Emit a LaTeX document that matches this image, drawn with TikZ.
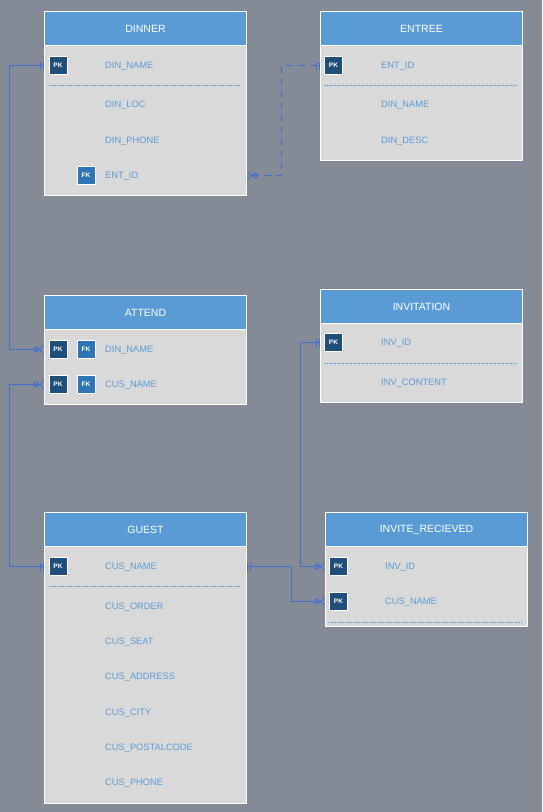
\documentclass[tikz,border=0pt]{standalone}
\usepackage{fontspec}
\setmainfont{Liberation Sans}
\usetikzlibrary{arrows.meta,positioning}
\definecolor{bgcol}{HTML}{858B96}
\definecolor{hdblue}{HTML}{5B9BD5}
\definecolor{bodygray}{HTML}{D9D9D9}
\definecolor{pkblue}{HTML}{1F4E79}
\definecolor{fkblue}{HTML}{2E75B6}
\definecolor{fldblue}{HTML}{5B9BD5}
\definecolor{relblue}{HTML}{3F6FD0}
\tikzset{
  zmany/.tip = {Circle[open,length=5.5pt,width=5.5pt,line width=1pt] Straight Barb[reversed,length=4pt,width=8pt,line width=1pt]},
  onlyone/.tip = {Bar[width=8pt,sep=2pt,line width=1.1pt] Bar[width=8pt,line width=1.1pt]},
}
\begin{document}
\begin{tikzpicture}[x=1pt,y=-1pt,
    tbl/.style={draw=white, line width=1pt, fill=bodygray, anchor=north west,
      inner sep=0pt, minimum width=202pt},
    hd/.style={tbl, fill=hdblue, minimum height=34pt, text=white,
      font=\fontsize{10.5}{12}\selectfont},
    fld/.style={anchor=west, inner sep=0pt, yshift=-1pt, text=fldblue, font=\fontsize{9.3}{11}\selectfont},
    key/.style={draw=white, line width=0.8pt, minimum size=18pt, inner sep=0pt,
      text=white, font=\fontsize{6.5}{7}\selectfont\bfseries},
    pk/.style={key, fill=pkblue},
    fk/.style={key, fill=fkblue},
    sepline/.style={fldblue, dash pattern=on 0.8pt off 0.8pt, line width=0.6pt,
      transform canvas={yshift=-0.5pt}},
    rel/.style={relblue, line width=1pt, transform canvas={yshift=-0.5pt}}]
  \fill[bgcol] (0,0) rectangle (542,812);
  \useasboundingbox (0,0) rectangle (542,812);

  % DINNER
  \node (dinner) [tbl, minimum height=184pt] at (44,11) {};
  \node (dinnerhd) [hd] at (44,11) {DINNER};
  \node (dinpk) [pk] at (58,65) {PK};
  \node (dinname) [fld] at (105,65) {DIN\_NAME};
  \draw[sepline] (49,85) -- (240,85);
  \node (dinloc) [fld] at (105,104) {DIN\_LOC};
  \node (dinphone) [fld] at (105,140) {DIN\_PHONE};
  \node (dinfk) [fk] at (86,175) {FK};
  \node (dinent) [fld] at (105,175) {ENT\_ID};

  % ENTREE
  \node (entree) [tbl, minimum height=149pt] at (320,11) {};
  \node (entreehd) [hd] at (320,11) {ENTREE};
  \node (entpk) [pk] at (333.5,65) {PK};
  \node (entid) [fld] at (381,65) {ENT\_ID};
  \draw[sepline] (324,85) -- (517,85);
  \node (entname) [fld] at (381,104) {DIN\_NAME};
  \node (entdesc) [fld] at (381,140) {DIN\_DESC};

  % ATTEND
  \node (attend) [tbl, minimum height=109pt] at (44,295) {};
  \node (attendhd) [hd] at (44,295) {ATTEND};
  \node (attpk1) [pk] at (58,349) {PK};
  \node (attfk1) [fk] at (86,349) {FK};
  \node (attdin) [fld] at (105,349) {DIN\_NAME};
  \node (attpk2) [pk] at (58,384) {PK};
  \node (attfk2) [fk] at (86,384) {FK};
  \node (attcus) [fld] at (105,384) {CUS\_NAME};

  % INVITATION
  \node (invitation) [tbl, minimum height=113pt] at (320,289) {};
  \node (invitationhd) [hd] at (320,289) {INVITATION};
  \node (invpk) [pk] at (333.5,342) {PK};
  \node (invid) [fld] at (381,342) {INV\_ID};
  \draw[sepline] (324,363) -- (517,363);
  \node (invcont) [fld] at (381,382) {INV\_CONTENT};

  % GUEST
  \node (guest) [tbl, minimum height=291pt] at (44,512) {};
  \node (guesthd) [hd] at (44,512) {GUEST};
  \node (gstpk) [pk] at (58,566) {PK};
  \node (gstname) [fld] at (105,566) {CUS\_NAME};
  \draw[sepline] (49,586) -- (240,586);
  \node (gstorder) [fld] at (105,606) {CUS\_ORDER};
  \node (gstseat) [fld] at (105,641) {CUS\_SEAT};
  \node (gstaddr) [fld] at (105,676) {CUS\_ADDRESS};
  \node (gstcity) [fld] at (105,712) {CUS\_CITY};
  \node (gstpost) [fld] at (105,747) {CUS\_POSTALCODE};
  \node (gstphone) [fld] at (105,782) {CUS\_PHONE};

  % INVITE_RECIEVED
  \node (invrec) [tbl, minimum height=114pt] at (325,512) {};
  \node (invrechd) [hd] at (325,512) {INVITE\_RECIEVED};
  \node (irpk1) [pk] at (338.5,566) {PK};
  \node (irinv) [fld] at (385,566) {INV\_ID};
  \node (irpk2) [pk] at (338.5,601) {PK};
  \node (ircus) [fld] at (385,601) {CUS\_NAME};
  \draw[sepline] (329,622) -- (522,622);

  % relationships
  \draw[rel, onlyone-zmany] (dinner.west |- dinpk) -- ++(-35,0) |- (attend.west |- attpk1);
  \draw[rel, onlyone-zmany] (guest.west |- gstpk) -- ++(-35,0) |- (attend.west |- attpk2);
  \draw[rel, dash pattern=on 7pt off 5pt, zmany-onlyone] (dinner.east |- dinfk) -- ++(34,0) |- (entree.west |- entpk);
  \draw[rel, onlyone-zmany] (invitation.west |- invpk) -- ++(-20,0) |- (invrec.west |- irpk1);
  \draw[rel, onlyone-zmany] (guest.east |- gstpk) -- ++(44,0) |- (invrec.west |- irpk2);
\end{tikzpicture}
\end{document}
